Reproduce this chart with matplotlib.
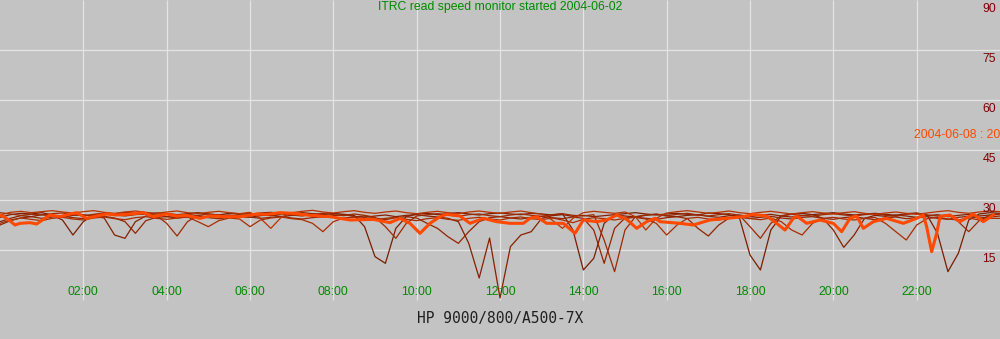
import numpy as np
import matplotlib.pyplot as plt

# sampling times (hours, every 15 min)
hours = np.arange(0, 24.01, 0.25)

# read speed per day, 2004-06-02 .. 2004-06-07
day_02 = [24.8, 25.6, 26.0, 25.8, 26.2, 25.5, 24.0, 19.5,
          23.5, 25.6, 26.0, 25.8, 26.3, 26.0, 25.7, 26.1,
          26.0, 25.6, 25.9, 26.2, 25.8, 25.5, 26.0, 25.9,
          25.7, 26.1, 26.3, 26.0, 25.8, 26.2, 25.9, 25.6,
          26.0, 25.7, 25.4, 22.0, 13.0, 11.0, 21.5, 25.0,
          25.8, 26.0, 25.6, 25.9, 26.2, 25.8, 25.5, 25.9,
          26.1, 25.8, 25.6, 26.0, 25.8, 25.5, 25.9, 21.0,
          9.0, 12.5, 23.0, 25.6, 25.9, 26.2, 25.8, 25.5,
          25.8, 26.0, 25.7, 25.5, 26.1, 25.9, 25.6, 24.5,
          13.5, 9.0, 21.0, 25.2, 25.8, 26.0, 25.6, 25.9,
          26.2, 25.8, 25.5, 25.8, 26.0, 25.7, 25.4, 25.9,
          26.1, 25.5, 20.0, 8.5, 14.0, 24.0, 25.8, 26.2,
          26.0]
day_03 = [23.5, 24.5, 25.3, 25.0, 25.6, 25.2, 24.8, 25.4,
          25.6, 25.1, 24.6, 19.5, 18.5, 23.5, 25.2, 25.5,
          25.0, 25.4, 25.7, 25.3, 24.9, 25.2, 25.5, 25.1,
          24.8, 25.3, 25.6, 25.0, 25.4, 25.7, 25.2, 24.9,
          25.3, 25.6, 25.1, 24.8, 25.2, 25.5, 25.0, 25.4,
          25.6, 25.2, 24.9, 24.5, 23.5, 17.0, 6.6, 18.6,
          0.6, 16.0, 19.5, 20.5, 24.5, 25.3, 25.6, 25.1,
          25.4, 25.0, 25.3, 25.6, 25.2, 24.9, 25.4, 25.7,
          25.2, 25.0, 25.4, 25.6, 25.1, 24.8, 25.3, 25.5,
          25.0, 25.4, 25.7, 25.2, 24.9, 25.3, 25.6, 24.5,
          21.0, 15.8, 19.5, 24.5, 25.4, 25.1, 25.5, 25.2,
          24.8, 25.3, 25.6, 25.0, 25.4, 25.7, 25.2, 25.5,
          25.8]
day_04 = [22.5, 23.8, 24.6, 25.0, 24.5, 24.9, 25.2, 24.7,
          24.4, 24.9, 25.1, 24.6, 23.5, 20.0, 23.8, 24.8,
          25.0, 24.6, 24.9, 25.2, 24.7, 24.4, 24.8, 25.1,
          24.9, 24.5, 24.8, 25.1, 24.6, 24.3, 24.7, 25.0,
          24.8, 24.4, 24.9, 25.2, 24.6, 24.1, 24.7, 25.0,
          24.6, 23.0, 21.5, 19.0, 17.0, 20.5, 23.5, 24.7,
          25.0, 24.6, 24.3, 24.8, 25.1, 24.7, 24.4, 24.9,
          24.5, 21.0, 11.0, 21.5, 24.6, 24.9, 24.5, 24.2,
          24.7, 25.0, 24.4, 21.5, 19.2, 22.5, 24.6, 24.9,
          24.5, 24.8, 25.1, 24.6, 24.3, 24.8, 25.0, 24.5,
          24.2, 24.7, 25.0, 24.5, 24.1, 24.6, 24.9, 24.4,
          24.7, 25.0, 24.5, 24.2, 24.8, 25.1, 24.6, 24.9,
          25.2]
day_05 = [26.2, 25.8, 25.4, 25.7, 25.5, 25.9, 26.1, 25.6,
          25.3, 25.7, 26.0, 25.5, 25.2, 25.6, 25.9, 25.4,
          23.0, 19.2, 23.5, 25.4, 25.8, 25.5, 25.2, 25.7,
          26.0, 25.6, 25.3, 25.8, 25.5, 25.2, 25.7, 26.0,
          25.6, 25.3, 25.8, 25.4, 24.8, 22.0, 18.5, 23.0,
          25.2, 25.6, 25.9, 25.5, 25.1, 25.6, 25.8, 25.3,
          25.0, 25.5, 25.8, 25.4, 25.1, 25.6, 25.9, 25.4,
          25.2, 25.6, 18.0, 8.5, 21.0, 25.0, 25.5, 25.8,
          25.3, 25.7, 26.0, 25.5, 25.2, 25.6, 25.9, 25.4,
          22.0, 18.5, 23.0, 25.3, 25.7, 25.4, 25.1, 25.6,
          25.9, 25.5, 25.2, 25.6, 25.9, 25.4, 25.1, 25.7,
          26.0, 25.5, 25.2, 25.6, 23.5, 20.5, 23.8, 25.4,
          25.9]
day_06 = [23.0, 24.0, 24.6, 24.2, 23.8, 24.5, 24.8, 24.3,
          24.0, 24.6, 24.9, 24.4, 24.1, 24.7, 25.0, 24.5,
          24.2, 24.6, 24.9, 23.5, 22.0, 23.8, 24.6, 24.3,
          22.0, 24.0, 24.6, 24.9, 24.4, 24.1, 23.0, 20.5,
          23.5, 24.6, 24.9, 24.3, 24.0, 24.5, 24.8, 24.2,
          23.8, 24.4, 24.7, 24.2, 23.9, 24.5, 24.8, 24.3,
          24.0, 24.6, 24.9, 24.4, 24.1, 24.6, 24.0, 23.2,
          24.2, 24.7, 24.4, 24.0, 24.5, 24.8, 24.3, 23.0,
          19.5, 22.5, 24.5, 24.8, 24.3, 24.0, 24.6, 24.9,
          24.4, 24.1, 24.6, 23.5, 21.0, 19.5, 23.0, 24.5,
          24.8, 24.3, 24.0, 24.5, 24.8, 23.0, 20.5, 18.0,
          22.5, 24.4, 24.8, 24.3, 24.0, 24.6, 24.0, 24.5,
          24.5]
day_07 = [25.5, 26.3, 26.6, 26.2, 26.5, 26.8, 26.4, 26.1,
          26.5, 26.8, 26.3, 26.0, 26.4, 26.7, 26.3, 26.0,
          26.4, 26.7, 26.2, 25.9, 26.3, 26.6, 26.2, 25.9,
          26.3, 24.5, 21.5, 24.8, 26.2, 26.6, 26.9, 26.4,
          26.1, 26.5, 26.8, 26.3, 26.0, 26.4, 26.7, 26.2,
          25.9, 26.3, 26.6, 26.2, 25.9, 26.4, 26.7, 26.3,
          26.0, 26.4, 26.7, 26.2, 25.8, 24.0, 21.5, 24.5,
          26.2, 26.6, 26.3, 26.0, 26.4, 25.0, 21.0, 24.5,
          26.1, 26.5, 26.8, 26.4, 26.0, 26.3, 26.7, 26.2,
          25.9, 26.3, 26.6, 26.2, 25.8, 26.2, 26.5, 26.1,
          25.8, 26.2, 26.5, 26.0, 25.7, 26.1, 26.4, 26.0,
          25.7, 26.1, 26.5, 26.8, 26.3, 26.0, 26.4, 26.7,
          26.5]

# today (2004-06-08), irregular samples
hours_08 = [0.00, 0.16, 0.36, 0.48, 0.72, 0.88, 1.04, 1.20, 1.44, 1.68,
            1.84, 2.08, 2.32, 2.56, 2.80, 3.12, 3.44, 3.68, 4.00, 4.24,
            4.48, 4.80, 5.04, 5.44, 5.76, 6.16, 6.40, 6.72, 7.04, 7.36,
            7.68, 7.92, 8.40, 8.96, 9.36, 9.60, 9.84, 10.08, 10.32, 10.56,
            10.72, 11.04, 11.28, 11.60, 11.92, 12.24, 12.56, 12.72, 12.88, 13.12,
            13.52, 13.80, 14.00, 14.32, 14.56, 14.80, 15.04, 15.28, 15.52, 15.72,
            15.84, 16.32, 16.64, 17.04, 17.44, 17.84, 18.08, 18.40, 18.64, 18.84,
            19.04, 19.12, 19.36, 19.68, 20.00, 20.20, 20.40, 20.56, 20.72, 20.96,
            21.28, 21.68, 22.00, 22.16, 22.24, 22.36, 22.48, 22.56, 22.80, 23.04,
            23.36, 23.60, 23.84]
speed_08 = [25.5, 24.5, 22.5, 23.0, 23.2, 22.8, 24.2, 25.5, 25.0, 25.8,
            26.2, 24.5, 25.2, 25.8, 25.5, 25.8, 26.2, 25.0, 25.8, 25.2,
            25.4, 24.5, 25.2, 25.0, 25.0, 25.8, 25.7, 26.2, 26.0, 25.5,
            25.2, 25.0, 24.0, 24.2, 23.2, 24.5, 23.0, 20.0, 23.0, 25.0,
            25.7, 25.2, 23.0, 24.5, 23.5, 23.0, 23.0, 24.5, 25.0, 23.0,
            23.0, 20.0, 24.0, 23.5, 24.0, 25.5, 24.2, 21.5, 23.5, 24.5,
            23.5, 23.0, 22.5, 24.0, 24.5, 25.0, 25.7, 25.2, 23.0, 21.0,
            24.5, 25.2, 23.0, 24.0, 23.0, 20.5, 24.5, 25.2, 21.5, 23.5,
            24.5, 23.0, 24.5, 25.5, 22.0, 14.5, 20.0, 25.0, 25.5, 23.5,
            25.8, 23.5, 25.5]

thin_days = [day_02, day_03, day_04, day_05, day_06, day_07]
thin_colors = ['#7a1c00', '#862000', '#922400', '#9e2800', '#aa2c00', '#b83200']

x_ticks = [2, 4, 6, 8, 10, 12, 14, 16, 18, 20, 22]
y_ticks = [15, 30, 45, 60, 75, 90]

fig = plt.figure(figsize=(10, 3.39), dpi=100)
fig.patch.set_facecolor('#c3c3c3')
ax = fig.add_axes([0, 0, 1, 1])
ax.set_facecolor('#c3c3c3')
ax.set_xlim(0, 24)
ax.set_ylim(-11.7, 90)
ax.axis('off')

# grid
for y in y_ticks[:-1]:
    ax.axhline(y, color='#e4e4e4', lw=0.9, zorder=1)
ax.vlines(x_ticks, 0, 90, color='#e4e4e4', lw=0.9, zorder=1)

for d, c in zip(thin_days, thin_colors):
    ax.plot(hours, d, color=c, lw=0.9, zorder=2)
ax.plot(hours_08, speed_08, color='#ff4800', lw=2.2, zorder=3)

for h in x_ticks:
    ax.text(h, 2.4, f'{h:02d}:00', color='#008a00', fontsize=8.8,
            family='Liberation Sans', ha='center', va='center')
for y in y_ticks:
    ax.text(23.9, y - 2.7, str(y), color='#800000', fontsize=8.8,
            family='Liberation Sans', ha='right', va='center')

ax.text(12, 87.9, 'ITRC read speed monitor started 2004-06-02', color='#008a00',
        fontsize=8.8, family='Liberation Sans', ha='center', va='center')
ax.text(21.94, 49.5, '2004-06-08 : 20', color='#ff4800', fontsize=8.8,
        family='Liberation Sans', ha='left', va='center')
ax.text(12, -5.7, 'HP 9000/800/A500-7X', color='#202020', fontsize=10.5,
        family='DejaVu Sans Mono', ha='center', va='center')

fig.savefig('out.png', dpi=100, facecolor=fig.get_facecolor())
